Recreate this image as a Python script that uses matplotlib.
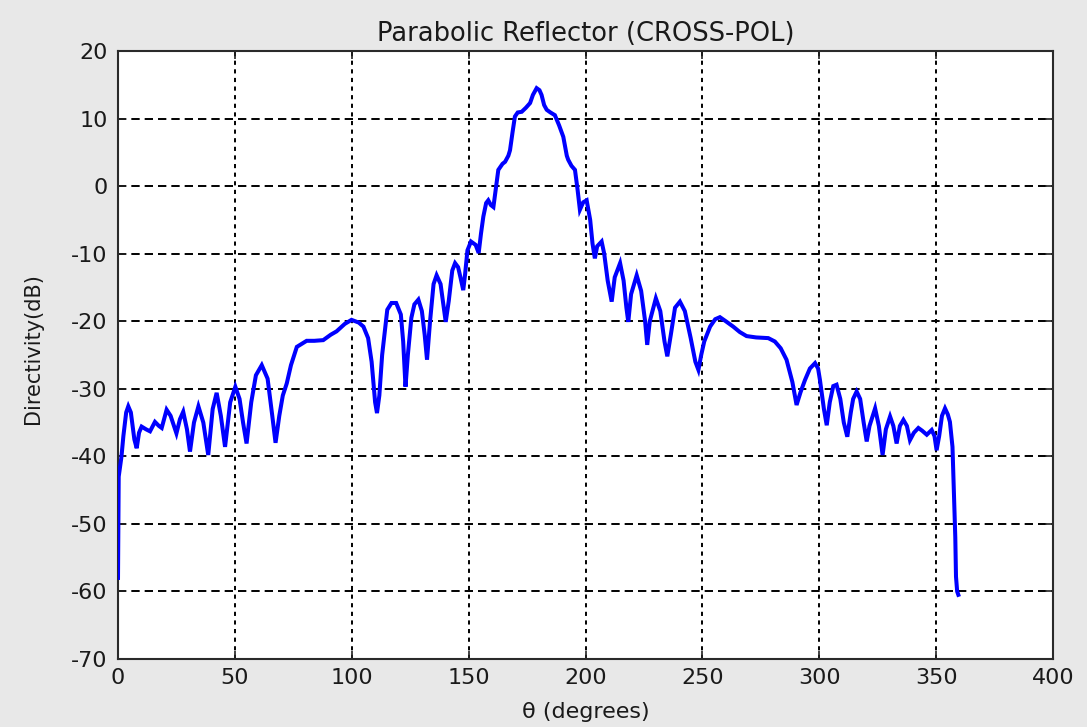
import matplotlib
matplotlib.use("Agg")
import matplotlib.pyplot as plt

# Cross-polar directivity pattern of the parabolic reflector
theta_deg = [
    0, 0.3, 1.5, 2.3, 3.5, 4.4, 5.5, 7, 8, 9, 10.1, 12, 13.7, 15.8, 17.5, 18.7,
    20.8, 22.5, 25, 26.5, 27.9, 29.5, 30.8, 32.5, 34.4, 36.5, 38.6, 40.5, 42.2,
    44, 45.8, 48, 50.2, 52, 53.5, 55, 57, 59, 61.5, 64, 66, 67.4, 69, 70.5, 72.2,
    74, 76.5, 80.7, 84, 87.8, 91, 93.5, 97, 99.9, 103, 105, 107, 108.5, 110,
    110.8, 111.8, 113, 115.2, 117, 119, 121, 122, 123, 124, 125.5, 126.8, 128.5,
    130, 131.2, 132.2, 133.5, 135, 136.3, 138, 139, 140.2, 141.5, 143, 144.2,
    145.5, 146.5, 147.7, 148.5, 149.5, 151, 153, 154.3, 155.3, 156.3, 157.5,
    158.4, 159.5, 160.6, 161.8, 162.7, 164.5, 165.6, 167, 167.7, 168.8, 169.8,
    171, 172.7, 174.5, 176.3, 177.5, 179.1, 180.3, 181.2, 182.3, 183.4, 185,
    186.9, 188.7, 190.5, 192, 192.6, 194, 195.5, 196.6, 197.6, 199, 200.5, 202,
    203, 204, 205, 206.9, 208, 209.5, 211.2, 212.5, 214.8, 216.3, 217.5, 218.3,
    219.5, 221.9, 223.8, 225.5, 226.4, 227.5, 230.1, 232, 233.8, 235, 236.5,
    238.3, 240.4, 242.5, 245, 247, 248.3, 249.5, 250.8, 253.3, 255.5, 257.5,
    260, 263.2, 266, 268.9, 273, 278.2, 281, 283.5, 286, 288.5, 290.3, 292,
    293.9, 296, 298.2, 299.5, 300.3, 302, 303.2, 304.5, 306, 307.4, 309, 310.5,
    312, 313.5, 314.5, 316, 317.5, 319, 320.3, 321.5, 323.9, 325.5, 327.1,
    328.5, 330.3, 331.7, 333.1, 334.5, 336, 337.5, 338.8, 340.5, 342.4, 344,
    346, 348.1, 349.3, 350.2, 351.3, 352.5, 353.8, 355, 355.9, 357, 357.6,
    358.2, 358.5, 359, 359.5,
]
directivity_db = [
    -58, -43, -40, -37, -33.5, -32.6, -33.5, -37.5, -38.8, -36.5, -35.6, -36.0,
    -36.3, -34.9, -35.5, -35.8, -33.1, -34.0, -36.6, -34.5, -33.4, -36, -39.3,
    -35, -32.6, -35, -39.8, -33, -30.6, -34, -38.6, -32, -29.7, -31.5, -35,
    -38.1, -32, -28, -26.5, -28.5, -34, -38.0, -34, -31, -29.2, -26.5, -23.8,
    -22.9, -22.9, -22.8, -22, -21.5, -20.4, -19.8, -20.2, -20.8, -22.5, -26,
    -32, -33.6, -31, -25, -18.3, -17.3, -17.3, -19.0, -23, -29.7, -25, -19.5,
    -17.5, -16.8, -18.5, -22, -25.7, -20, -14.5, -13.2, -14.5, -17, -20.1, -17,
    -12.5, -11.4, -12, -13.5, -15.4, -13, -9.5, -8.2, -8.7, -9.9, -7, -4.5,
    -2.5, -2.1, -2.8, -3.1, 0, 2.4, 3.3, 3.6, 4.5, 5.3, 8, 10.3, 10.9, 11.0,
    11.6, 12.3, 13.5, 14.5, 14.2, 13.5, 12, 11.3, 10.9, 10.5, 9, 7.3, 4.5, 3.9,
    3.0, 2.4, -0.5, -3.5, -2.4, -2.1, -5, -8.5, -10.7, -8.9, -8.2, -10, -14,
    -17.1, -13.5, -11.4, -14, -18, -20.1, -16, -13.2, -15.5, -20, -23.5, -20,
    -16.6, -18.5, -23, -25.2, -22, -18, -17.1, -18.5, -22.5, -26, -27.2, -25,
    -23, -20.8, -19.7, -19.4, -20, -20.8, -21.6, -22.2, -22.4, -22.5, -23, -24,
    -25.7, -29, -32.4, -30.5, -28.7, -27, -26.2, -27, -28.7, -33, -35.4, -32,
    -29.6, -29.4, -31.5, -35, -37.1, -33.5, -31.5, -30.4, -31.5, -35, -37.8,
    -35.5, -32.9, -35.5, -39.8, -36, -34.1, -35.5, -38.1, -35.5, -34.6, -35.5,
    -37.6, -36.5, -35.8, -36.2, -36.8, -36.1, -37, -39.1, -37, -34, -32.9,
    -33.8, -34.9, -38.6, -45.5, -52, -57.8, -60, -60.5,
]

x_ticks = [0, 50, 100, 150, 200, 250, 300, 350, 400]
y_ticks = [-70, -60, -50, -40, -30, -20, -10, 0, 10, 20]

plt.rcParams["font.family"] = ["DejaVu Sans"]
plt.rcParams["lines.scale_dashes"] = False
plt.rcParams["axes.unicode_minus"] = False

fig = plt.figure(figsize=(10.87, 7.27), dpi=100, facecolor="#e8e8e8")
ax = fig.add_axes([118 / 1087, 68 / 727, 935 / 1087, 608 / 727])
ax.set_facecolor("white")

ax.plot(theta_deg, directivity_db, color="#0000ff", linewidth=2.9,
        solid_joinstyle="miter", zorder=3)

ax.set_xlim(0, 400)
ax.set_ylim(-70, 20)
ax.set_xticks(x_ticks)
ax.set_yticks(y_ticks)

# dotted MATLAB-like grid
for xv in x_ticks[1:-1]:
    ax.axvline(xv, color="black", linewidth=1.4, linestyle=(0, (3.0, 3.2)), zorder=1)
for yv in y_ticks[1:-1]:
    ax.axhline(yv, color="black", linewidth=1.4, linestyle=(0, (6.0, 3.6)), zorder=1)

ax.tick_params(axis="both", direction="in", length=6, width=1.2, color="#222222",
               top=True, right=True, labelsize=16, labelcolor="#1a1a1a")
ax.tick_params(axis="y", pad=7.5)
ax.tick_params(axis="x", pad=6.5)
for sp in ax.spines.values():
    sp.set_color("#2a2a2a")
    sp.set_linewidth(1.5)

ax.set_title("Parabolic Reflector (CROSS-POL)", fontsize=18.5, color="#1a1a1a", pad=7)
ax.set_xlabel("θ (degrees)", fontsize=16, color="#1a1a1a")
ax.set_ylabel("Directivity(dB)", fontsize=15, color="#1a1a1a")
ax.xaxis.set_label_coords(0.5, -0.071)
ax.yaxis.set_label_coords(-0.080, 0.51)

fig.savefig("out.png", dpi=100, facecolor=fig.get_facecolor())
